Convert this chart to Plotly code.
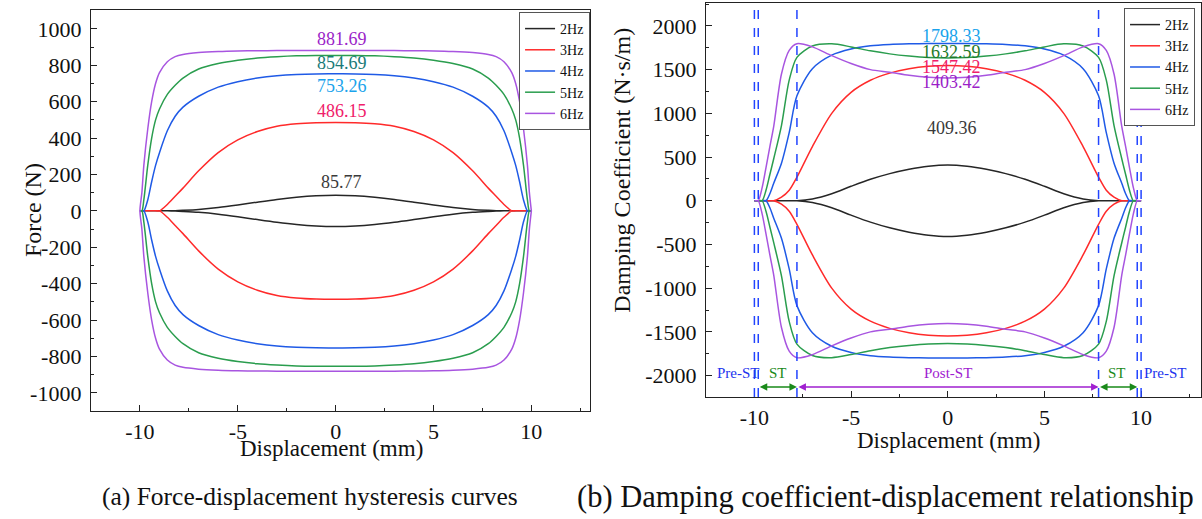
import plotly.graph_objects as go

# ---------------- data ----------------
disp = [-10, -9.9, -9.8, -9.6, -9.4, -9.2, -9.0, -8.6, -8.2, -7.8, -7, -6, -5, -4, -3, -2, -1, 0,
        1, 2, 3, 4, 5, 6, 7, 7.8, 8.2, 8.6, 9.0, 9.2, 9.4, 9.6, 9.8, 9.9, 10]

freq_labels = ["2Hz", "3Hz", "4Hz", "5Hz", "6Hz"]

# Force (N), upper branch (left -> right) and lower branch (left -> right)
force_2hz_up = [0, 0, 0, 0, 0, 0, 0, 0, 1, 3, 8, 18, 32, 48, 63, 75, 83, 85.77,
                83, 75, 63, 48, 32, 18, 8, 3, 1, 0, 0, 0, 0, 0, 0, 0, 0]
force_2hz_lo = [0, 0, 0, 0, 0, 0, 0, 0, -1, -3, -8, -18, -32, -48, -63, -75, -83, -85.77,
                -83, -75, -63, -48, -32, -18, -8, -3, -1, 0, 0, 0, 0, 0, 0, 0, 0]
force_3hz_up = [0, 0, 0, 0, 0, 0, 0, 35, 80, 125, 220, 320, 390, 436, 465, 479, 485, 486.15,
                485, 479, 465, 436, 390, 320, 220, 125, 80, 35, 0, 0, 0, 0, 0, 0, 0]
force_3hz_lo = [0, 0, 0, 0, 0, 0, 0, -35, -80, -125, -220, -320, -390, -436, -465, -479, -485, -486.15,
                -485, -479, -465, -436, -390, -320, -220, -125, -80, -35, 0, 0, 0, 0, 0, 0, 0]
force_4hz_up = [0, 0, 0, 60, 160, 250, 320, 440, 520, 570, 630, 680, 710, 730, 743, 750, 753, 753.26,
                753, 750, 743, 730, 710, 680, 630, 570, 520, 440, 320, 250, 160, 60, 0, 0, 0]
force_4hz_lo = [0, 0, 0, -60, -160, -250, -320, -440, -520, -570, -630, -680, -710, -730, -743, -750, -753, -753.26,
                -753, -750, -743, -730, -710, -680, -630, -570, -520, -440, -320, -250, -160, -60, 0, 0, 0]
force_5hz_up = [0, 0, 60, 250, 400, 500, 560, 640, 690, 730, 780, 810, 828, 840, 847, 852, 854.3, 854.69,
                854.3, 852, 847, 840, 828, 810, 780, 730, 690, 640, 560, 500, 400, 250, 60, 0, 0]
force_5hz_lo = [0, 0, -60, -250, -400, -500, -560, -640, -690, -730, -780, -810, -828, -840, -847, -852, -854.3, -854.69,
                -854.3, -852, -847, -840, -828, -810, -780, -730, -690, -640, -560, -500, -400, -250, -60, 0, 0]
force_6hz_up = [0, 100, 250, 450, 600, 700, 760, 820, 848, 860, 870, 876, 879, 880, 881, 881.5, 881.6, 881.69,
                881.6, 881.5, 881, 880, 879, 876, 870, 860, 848, 820, 760, 700, 600, 450, 250, 100, 0]
force_6hz_lo = [0, -100, -250, -450, -600, -700, -760, -820, -848, -860, -870, -876, -879, -880, -881, -881.5, -881.6, -881.69,
                -881.6, -881.5, -881, -880, -879, -876, -870, -860, -848, -820, -760, -700, -600, -450, -250, -100, 0]

# Damping coefficient (N*s/m)
damp_2hz_up = [0, 0, 0, 0, 0, 0, 0, 0, 0, 0, 20, 80, 165, 245, 310, 360, 395, 409.36,
               395, 360, 310, 245, 165, 80, 20, 0, 0, 0, 0, 0, 0, 0, 0, 0, 0]
damp_2hz_lo = [0, 0, 0, 0, 0, 0, 0, 0, 0, 0, -20, -80, -165, -245, -310, -360, -395, -409.36,
               -395, -360, -310, -245, -165, -80, -20, 0, 0, 0, 0, 0, 0, 0, 0, 0, 0]
damp_3hz_up = [0, 0, 0, 0, 0, 0, 0, 40, 120, 270, 620, 1000, 1240, 1378, 1460, 1510, 1538, 1547.42,
               1538, 1510, 1460, 1378, 1240, 1000, 620, 270, 120, 40, 0, 0, 0, 0, 0, 0, 0]
damp_3hz_lo = [0, 0, 0, 0, 0, 0, 0, -40, -120, -270, -620, -1000, -1240, -1378, -1460, -1510, -1538, -1547.42,
               -1538, -1510, -1460, -1378, -1240, -1000, -620, -270, -120, -40, 0, 0, 0, 0, 0, 0, 0]
damp_4hz_up = [0, 0, 0, 0, 0, 80, 200, 430, 780, 1200, 1510, 1665, 1735, 1772, 1788, 1795, 1798, 1798.33,
               1798, 1795, 1788, 1772, 1735, 1665, 1510, 1200, 780, 430, 200, 80, 0, 0, 0, 0, 0]
damp_4hz_lo = [0, 0, 0, 0, 0, -80, -200, -430, -780, -1200, -1510, -1665, -1735, -1772, -1788, -1795, -1798, -1798.33,
               -1798, -1795, -1788, -1772, -1735, -1665, -1510, -1200, -780, -430, -200, -80, 0, 0, 0, 0, 0]
damp_5hz_up = [0, 0, 0, 0, 120, 300, 480, 860, 1380, 1640, 1770, 1795, 1760, 1715, 1680, 1655, 1638, 1632.59,
               1638, 1655, 1680, 1715, 1760, 1795, 1770, 1640, 1380, 860, 480, 300, 120, 0, 0, 0, 0]
damp_5hz_lo = [0, 0, 0, 0, -120, -300, -480, -860, -1380, -1640, -1770, -1795, -1760, -1715, -1680, -1655, -1638, -1632.59,
               -1638, -1655, -1680, -1715, -1760, -1795, -1770, -1640, -1380, -860, -480, -300, -120, 0, 0, 0, 0]
damp_6hz_up = [0, 0, 0, 150, 380, 620, 850, 1450, 1720, 1796, 1760, 1660, 1570, 1500, 1470, 1435, 1412, 1403.42,
               1412, 1435, 1470, 1500, 1570, 1660, 1760, 1796, 1720, 1450, 850, 620, 380, 150, 0, 0, 0]
damp_6hz_lo = [0, 0, 0, -150, -380, -620, -850, -1450, -1720, -1796, -1760, -1660, -1570, -1500, -1470, -1435, -1412, -1403.42,
               -1412, -1435, -1470, -1500, -1570, -1660, -1760, -1796, -1720, -1450, -850, -620, -380, -150, 0, 0, 0]

# peak value labels
force_peaks = [85.77, 486.15, 753.26, 854.69, 881.69]
force_label_y = [160, 550, 687, 813, 945]
damp_peaks = [409.36, 1547.42, 1798.33, 1632.59, 1403.42]
damp_label_y = [830, 1526, 1890, 1700, 1359]

# stage boundaries (mm) and stage labels
stage_bounds = [-10, -9.8, -7.8, 7.8, 9.8, 10]
stage_arrows = [(-10, -9.8), (-9.8, -7.8), (-7.8, 7.8), (7.8, 9.8), (9.8, 10)]
stage_names = ["Pre-ST", "ST", "Post-ST", "ST", "Pre-ST"]
stage_name_x = [-10.8, -8.8, 0, 8.75, 11.25]

# ---------------- styles ----------------
line_colors = ["#262626", "#ff2a2a", "#1f5ae6", "#2a9d4e", "#a855e0"]
force_label_colors = ["#3a3a3a", "#f0206a", "#1aa3ec", "#1a7a78", "#9b1fc8"]
damp_label_colors = ["#3a3a3a", "#f0206a", "#1aa3ec", "#1e7a2a", "#9b1fc8"]
stage_colors = ["#2233ee", "#1a8a1a", "#a020d0", "#1a8a1a", "#2233ee"]
FONT = "Liberation Serif"

force_up = [force_2hz_up, force_3hz_up, force_4hz_up, force_5hz_up, force_6hz_up]
force_lo = [force_2hz_lo, force_3hz_lo, force_4hz_lo, force_5hz_lo, force_6hz_lo]
damp_up = [damp_2hz_up, damp_3hz_up, damp_4hz_up, damp_5hz_up, damp_6hz_up]
damp_lo = [damp_2hz_lo, damp_3hz_lo, damp_4hz_lo, damp_5hz_lo, damp_6hz_lo]

fig = go.Figure()

loop_x = disp + disp[::-1]
for i, name in enumerate(freq_labels):
    fig.add_trace(go.Scatter(
        x=loop_x, y=force_up[i] + force_lo[i][::-1], mode="lines", name=name,
        line=dict(color=line_colors[i], width=1.5, shape="spline", smoothing=0.8),
        xaxis="x", yaxis="y", legend="legend"))
for i, name in enumerate(freq_labels):
    fig.add_trace(go.Scatter(
        x=loop_x, y=damp_up[i] + damp_lo[i][::-1], mode="lines", name=name,
        line=dict(color=line_colors[i], width=1.5, shape="spline", smoothing=0.8),
        xaxis="x2", yaxis="y2", legend="legend2"))


def txt(x, y, text, size, color, xref="paper", yref="paper", angle=0):
    return dict(x=x, y=y, xref=xref, yref=yref, showarrow=False, text=text, textangle=angle,
                xanchor="center", yanchor="middle", font=dict(family=FONT, size=size, color=color))


annotations = []
for i in range(5):
    annotations.append(txt(0.3, force_label_y[i], f"{force_peaks[i]:.2f}", 18, force_label_colors[i], "x", "y"))
    annotations.append(txt(0.2, damp_label_y[i], f"{damp_peaks[i]:.2f}", 18, damp_label_colors[i], "x2", "y2"))

# stage arrows
arrow_y = -2130
for (a, b), col in zip(stage_arrows, stage_colors):
    annotations.append(dict(x=b, y=arrow_y, ax=a, ay=arrow_y, xref="x2", yref="y2", axref="x2", ayref="y2",
                            showarrow=True, arrowhead=2, startarrowhead=2, arrowside="end+start",
                            arrowsize=1, startarrowsize=1, arrowwidth=1.5, arrowcolor=col, text=""))
for nm, xx, col in zip(stage_names, stage_name_x, stage_colors):
    annotations.append(txt(xx, -1975, nm, 15, col, "x2", "y2"))

# axis titles and captions
annotations += [
    txt(0.0275, 0.5954, "Force (N)", 24, "#111", angle=-90),
    txt(0.5172, 0.6724, "Damping Coefficient (N·s/m)", 24, "#111", angle=-90),
    txt(0.2762, 0.1368, "Displacement (mm)", 23, "#111"),
    txt(0.7887, 0.1503, "Displacement (mm)", 23, "#111"),
    txt(0.2583, 0.0424, "(a) Force-displacement hysteresis curves", 25.5, "#111"),
    txt(0.7363, 0.0424, "(b) Damping coefficient-displacement relationship", 30.5, "#111"),
]

shapes = []
for xb in stage_bounds:
    shapes.append(dict(type="line", xref="x2", yref="y2 domain", x0=xb, x1=xb, y0=0, y1=1,
                       line=dict(color="#2244ff", width=1.5, dash="dash")))

axis_common = dict(showline=True, linecolor="#222", linewidth=1.3, mirror=True, ticks="inside",
                   ticklen=6, tickwidth=1.2, tickcolor="#222", showgrid=False, zeroline=False,
                   tickfont=dict(family=FONT, size=22, color="#111"))

fig.update_layout(
    width=1202, height=519, margin=dict(l=0, r=0, t=0, b=0),
    paper_bgcolor="white", plot_bgcolor="white", showlegend=True,
    xaxis=dict(domain=[0.0757, 0.4909], range=[-12.5, 13], anchor="y", tickvals=[-10, -5, 0, 5, 10],
               ticktext=["-10", "-5", "0", "5", "10"],
               minor=dict(ticks="inside", ticklen=3, dtick=2.5, tick0=0, tickcolor="#222"), **axis_common),
    yaxis=dict(domain=[0.2081, 0.9807], range=[-1100, 1104], anchor="x",
               tickvals=[-1000, -800, -600, -400, -200, 0, 200, 400, 600, 800, 1000],
               ticktext=["-1000", "-800", "-600", "-400", "-200", "0", "200", "400", "600", "800", "1000"],
               ticklabelstandoff=4,
               minor=dict(ticks="inside", ticklen=3, dtick=100, tick0=0, tickcolor="#222"), **axis_common),
    xaxis2=dict(domain=[0.5874, 0.9992], range=[-12.5, 13.1], anchor="y2", tickvals=[-10, -5, 0, 5, 10],
                ticktext=["-10", "-5", "0", "5", "10"],
                minor=dict(ticks="inside", ticklen=3, dtick=2.5, tick0=0, tickcolor="#222"), **axis_common),
    yaxis2=dict(domain=[0.2351, 0.9942], range=[-2245, 2262], anchor="x2",
                tickvals=[-2000, -1500, -1000, -500, 0, 500, 1000, 1500, 2000],
                ticktext=["-2000", "-1500", "-1000", "-500", "0", "500", "1000", "1500", "2000"],
                ticklabelstandoff=4,
                minor=dict(ticks="inside", ticklen=3, dtick=250, tick0=0, tickcolor="#222"), **axis_common),
    legend=dict(x=0.4909, y=0.9769, xanchor="right", yanchor="top", bgcolor="white", bordercolor="#555",
                borderwidth=1, font=dict(family=FONT, size=14, color="#111"), itemwidth=30, tracegroupgap=0),
    legend2=dict(x=0.9942, y=0.9846, xanchor="right", yanchor="top", bgcolor="white", bordercolor="#555",
                 borderwidth=1, font=dict(family=FONT, size=14, color="#111"), itemwidth=30, tracegroupgap=0),
    annotations=annotations, shapes=shapes,
)

fig.write_html("out.html")
